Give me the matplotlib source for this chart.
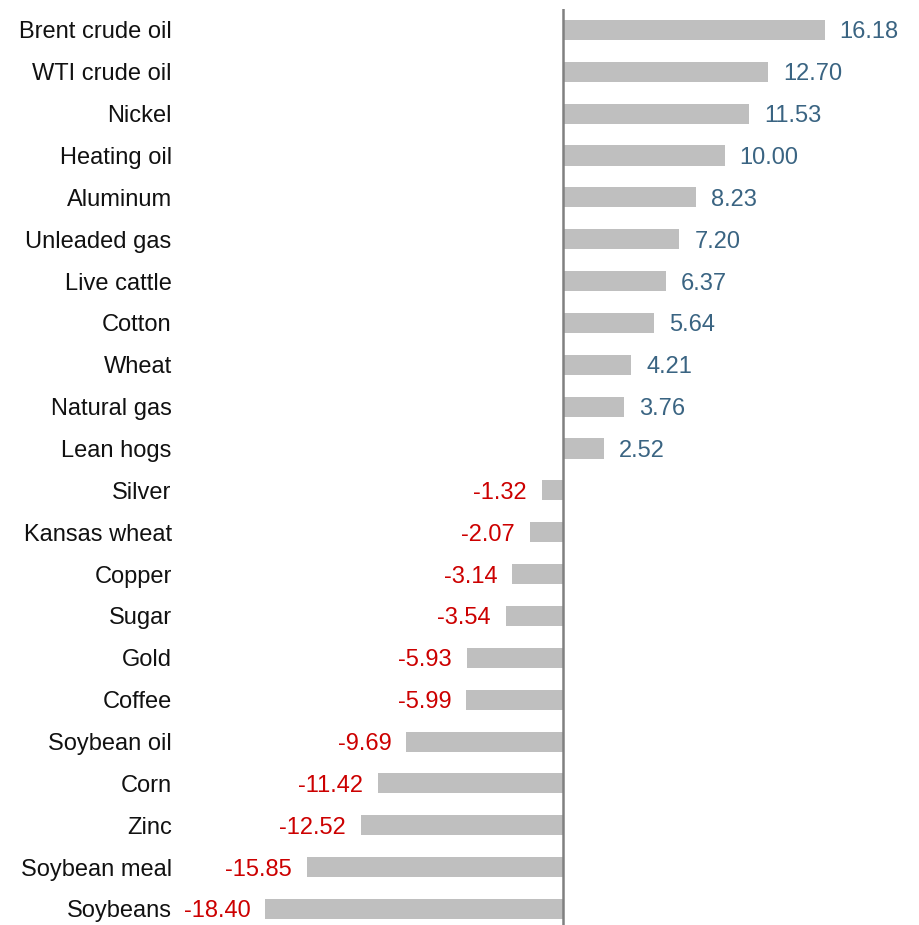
import matplotlib.pyplot as plt

commodities = ["Brent crude oil", "WTI crude oil", "Nickel", "Heating oil", "Aluminum",
               "Unleaded gas", "Live cattle", "Cotton", "Wheat", "Natural gas", "Lean hogs",
               "Silver", "Kansas wheat", "Copper", "Sugar", "Gold", "Coffee", "Soybean oil",
               "Corn", "Zinc", "Soybean meal", "Soybeans"]
changes = [16.18, 12.70, 11.53, 10.00, 8.23, 7.20, 6.37, 5.64, 4.21, 3.76, 2.52,
           -1.32, -2.07, -3.14, -3.54, -5.93, -5.99, -9.69, -11.42, -12.52, -15.85, -18.40]

plt.rcParams['font.family'] = ['Liberation Sans', 'DejaVu Sans']

W, H = 920, 925
fig = plt.figure(figsize=(W / 100, H / 100), dpi=100)
# axes placed in pixel terms: zero line at x=563, about 16.17 px per unit
ax_left, ax_right, ax_top, ax_bot = 180, 915, 9, 925
ax = fig.add_axes([ax_left / W, 1 - ax_bot / H, (ax_right - ax_left) / W, (ax_bot - ax_top) / H])

ppu = 16.17
zero_px = 563
ax.set_xlim((ax_left - zero_px) / ppu, (ax_right - zero_px) / ppu)
step = 41.86
ax.set_ylim(21 + (ax_bot - 909) / step, -0.5)

y = list(range(len(commodities)))
ax.barh(y, changes, height=0.48, color='#bfbfbf')
ax.axvline(0, color='#808080', lw=1.8)

for yi, v in zip(y, changes):
    if v >= 0:
        ax.annotate(f"{v:.2f}", (v, yi), xytext=(15, 0), textcoords='offset pixels',
                    ha='left', va='center_baseline', fontsize=17, color='#3a6482')
    else:
        ax.annotate(f"{v:.2f}", (v, yi), xytext=(-15, 0), textcoords='offset pixels',
                    ha='right', va='center_baseline', fontsize=17, color='#cc0000')

ax.set_yticks(y)
ax.set_yticklabels(commodities, fontsize=17, color='#111111', va='center_baseline')
ax.tick_params(axis='y', length=0, pad=6)
ax.set_xticks([])
for s in ax.spines.values():
    s.set_visible(False)

fig.savefig('out.png', dpi=100)
